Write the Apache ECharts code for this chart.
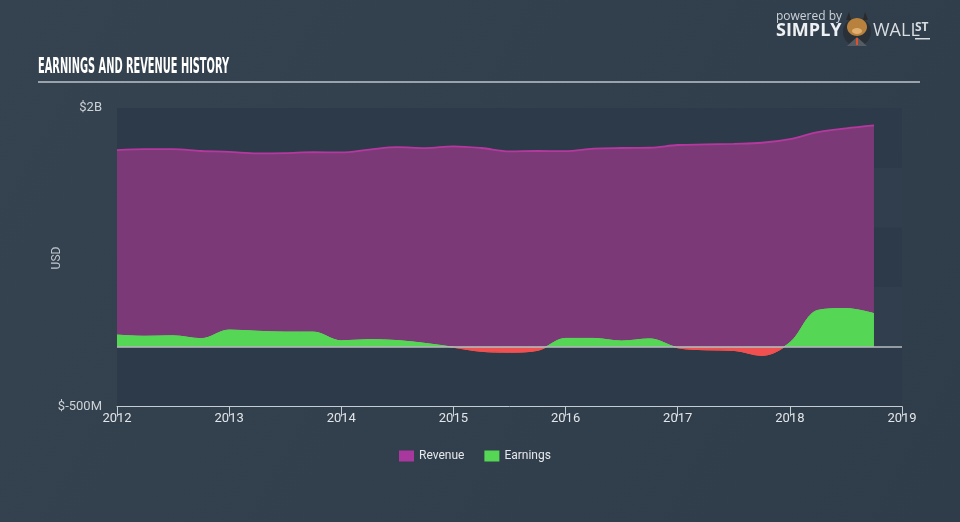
<!DOCTYPE html>
<html>
<head>
<meta charset="utf-8">
<script src="https://cdn.jsdelivr.net/npm/echarts@6/dist/echarts.min.js"></script>
<style>
html,body{margin:0;padding:0;background:#323f4e;}
#chart{width:960px;height:522px;}
</style>
</head>
<body>
<div id="chart"></div>
<script>
// Quarterly periods (decimal years)
const periods = [2012.0,2012.25,2012.5,2012.75,2013.0,2013.25,2013.5,2013.75,2014.0,2014.25,2014.5,2014.75,2015.0,2015.25,2015.5,2015.75,2016.0,2016.25,2016.5,2016.75,2017.0,2017.25,2017.5,2017.75,2018.0,2018.25,2018.5,2018.75];
// Values in USD millions
const revenue = [1648,1655,1656,1640,1633,1620,1622,1630,1628,1652,1672,1664,1679,1665,1637,1640,1639,1660,1665,1667,1690,1695,1700,1709,1740,1798,1830,1855];
const earnings = [98,88,92,68,140,130,123,123,50,60,52,28,-4,-38,-45,-30,70,70,48,66,-8,-25,-30,-72,35,305,320,278];
const yTickLabels = {"-500":"$-500M","2000":"$2B"};
const legendNames = ["Revenue","Earnings"];

const GREEN = '#55d655', RED = '#f0504f';

const chart = echarts.init(document.getElementById('chart'), null, {renderer:'canvas'});

function pairs(vals){ return periods.map((p,i)=>[p, vals[i]]); }

const titleText = 'EARNINGS AND REVENUE HISTORY';
const titleFont = 'bold 21px "DejaVu Sans Condensed", "DejaVu Sans", sans-serif';
const cv = document.createElement('canvas').getContext('2d');
cv.font = titleFont;
const tw = cv.measureText(titleText).width;
const titleScale = 191 / tw;

const option = {
  backgroundColor: {
    type:'linear', x:0, y:0, x2:1, y2:1,
    colorStops:[{offset:0,color:'#35424f'},{offset:1,color:'#2f3c4a'}]
  },
  animation:false,
  grid:{left:117,right:58,top:108,bottom:115.5},
  legend:{
    bottom:55, left:394,
    itemWidth:15, itemHeight:11, itemGap:20,
    textStyle:{color:'#e6e9ec',fontSize:12,fontFamily:'Roboto'},
    data:[
      {name:legendNames[0], icon:'rect', itemStyle:{color:'#a8389e'}},
      {name:legendNames[1], icon:'rect', itemStyle:{color:GREEN}}
    ]
  },
  xAxis:{
    type:'value', min:2012, max:2019, interval:1,
    axisLine:{show:true, onZero:false, lineStyle:{color:'#c4ccd4',width:1}},
    axisTick:{show:true, length:10, lineStyle:{color:'#c4ccd4'}},
    axisLabel:{color:'#e2e6ea', fontSize:13, margin:6, fontFamily:'Roboto', formatter:v=>String(v)},
    splitLine:{show:false}
  },
  yAxis:{
    type:'value', min:-500, max:2000, interval:500,
    axisLine:{show:false}, axisTick:{show:false},
    axisLabel:{color:'#cdd2d7', fontSize:13, margin:15, fontFamily:'Roboto',
      formatter:v=> yTickLabels[String(v)] || ''},
    splitLine:{show:false},
    splitArea:{show:true, areaStyle:{color:['#2c3a49','#303e4d']}}
  },
  series:[
    {
      name:legendNames[0], type:'line', data:pairs(revenue),
      smooth:0.35, symbol:'none',
      lineStyle:{color:'#b5389f', width:1.8},
      itemStyle:{color:'#a8389e'},
      areaStyle:{color:'#7b3a77', opacity:1},
      z:2
    },
    {
      name:legendNames[1], type:'line', data:pairs(earnings),
      smooth:0.35, symbol:'none',
      lineStyle:{width:1, color:GREEN},
      itemStyle:{color:GREEN},
      areaStyle:{opacity:1, color:GREEN},
      z:3,
      markLine:{
        silent:true, symbol:'none', label:{show:false},
        lineStyle:{color:'#b9bdc1', type:'solid', width:1.5},
        data:[{yAxis:0}]
      }
    }
  ],
  graphic:[
    {type:'text', left:38, top:57, scaleX:titleScale, originX:0, originY:0,
      style:{text:titleText, font:titleFont, fill:'#ffffff'}},
    {type:'rect', shape:{x:38,y:81,width:882,height:2}, style:{fill:'#9aa3ac'}},
    {type:'text', x:57, y:258, rotation:Math.PI/2,
      style:{text:'USD', font:'12px Roboto', fill:'#c0c7ce', align:'center', verticalAlign:'middle'}},
    {type:'text', left:776, top:11, style:{text:'powered by', font:'12px "Open Sans"', fill:'#cdd3d8'}},
    {type:'text', left:776, top:22, style:{text:'SIMPLY', font:'bold 18px "Open Sans"', fill:'#eef1f3'}},
    {type:'circle', shape:{cx:857,cy:32,r:14}, style:{fill:'#2a3038'}},
    {type:'polygon', shape:{points:[[846,20],[849,12],[851,20]]}, style:{fill:'#2a2a2a'}},
    {type:'polygon', shape:{points:[[863,20],[865,12],[868,20]]}, style:{fill:'#2a2a2a'}},
    {type:'ellipse', shape:{cx:857,cy:27,rx:10,ry:9}, style:{fill:'#b8823e'}},
    {type:'ellipse', shape:{cx:857,cy:31,rx:5,ry:3}, style:{fill:'#e0b070'}},
    {type:'polygon', shape:{points:[[847,46],[857,37],[867,46]]}, style:{fill:'#555c64'}},
    {type:'rect', shape:{x:856,y:38,width:2,height:7}, style:{fill:'#e0502a'}},
    {type:'text', left:873, top:22, style:{text:'WALL', font:'18px "Open Sans"', fill:'#d8dde1'}},
    {type:'text', left:915, top:22, style:{text:'ST', font:'bold 12px "Open Sans"', fill:'#d8dde1'}},
    {type:'rect', shape:{x:915,y:38,width:15,height:1.5}, style:{fill:'#d8dde1'}}
  ]
};
chart.setOption(option);

// colour earnings area green above zero and red below, split at the axis' zero pixel
const zeroY = chart.convertToPixel({yAxisIndex:0}, 0);
const split = {
  type:'linear', x:0, y:0, x2:0, y2:522, global:true,
  colorStops:[
    {offset:0, color:GREEN},{offset:zeroY/522, color:GREEN},
    {offset:zeroY/522, color:RED},{offset:1, color:RED}
  ]
};
chart.setOption({series:[{}, {lineStyle:{color:split}, areaStyle:{color:split}}]});
</script>
</body>
</html>
